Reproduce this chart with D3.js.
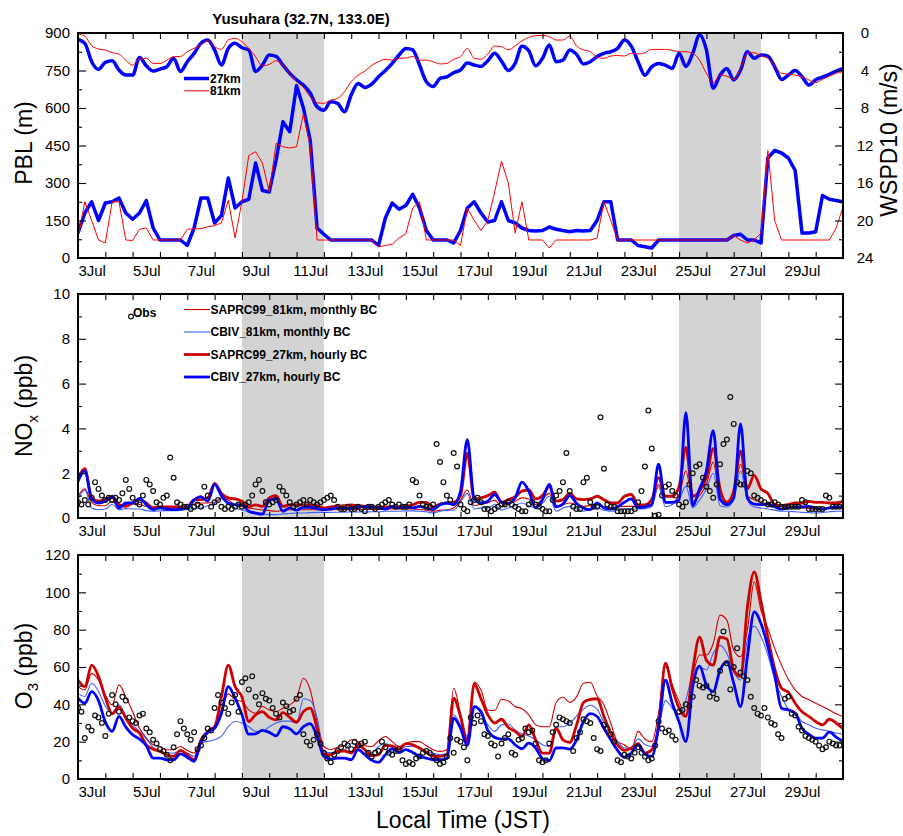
<!DOCTYPE html>
<html>
<head>
<meta charset="utf-8">
<script src="https://cdn.jsdelivr.net/npm/d3@7"></script>
<style>
  body { margin: 0; background: #fff; }
  svg text { font-family: "Liberation Sans", Arial, Helvetica, sans-serif; }
</style>
</head>
<body>
<svg id="chart" width="903" height="836"></svg>
<script>
// ---------------------------------------------------------------
// Time axis: days after 3 Jul 00:00 JST. Model output every 6 h,
// observations every 3 h.
// ---------------------------------------------------------------
const modelStepHours = 6;
const obsStepHours = 3;
const dayTicks = d3.range(0, 29);
const dateLabels = ["3Jul", "5Jul", "7Jul", "9Jul", "11Jul", "13Jul", "15Jul",
                    "17Jul", "19Jul", "21Jul", "23Jul", "25Jul", "27Jul", "29Jul"];
const shadedPeriods = [[6, 9], [22, 25]];   // 9-11 Jul and 25-27 Jul

// ---- Panel 1: 10-m wind speed (m/s, right axis) ----
const wspd27km = [
  0.68, 1.1, 3.06, 3.88,   3.13, 2.96, 3.95, 4.49,   4.49, 2.6, 3.5, 4.06,   3.85, 3.6, 2.7, 4.1,
  3.06, 2.17, 1.1, 0.75,   1.8, 3.42, 1.64, 1.1,     1.57, 1.8, 4.1, 3.42,   2.35, 2.5, 3.42, 4.3,
  5.0, 5.55, 6.4, 7.87,    8.23, 7.34, 7.5, 8.4,     6.6, 5.38, 5.8, 5.45,   4.67, 4.0, 3.24, 2.35,
  1.64, 1.8, 3.42, 5.2,    5.7, 4.84, 4.67, 4.24,    3.95, 3.2, 3.42, 3.56,  2.96, 2.17, 3.0, 4.0,
  3.24, 1.4, 1.9, 3.5,     2.7, 1.28, 3.06, 2.9,     1.8, 2.28, 3.3, 3.06,   2.5, 2.17, 2.0, 1.64,
  0.75, 1.4, 3.06, 4.5,    3.6, 3.24, 3.42, 3.78,    2.17, 3.56, 2.17, 0.2,  1.8, 5.9, 4.5, 3.78,
  5.0, 3.95, 2.0, 2.7,     2.35, 2.46, 3.6, 4.95,    4.49, 4.0, 4.67, 5.55,  5.0, 4.7, 4.4, 4.06,
  3.78
];
const wspd81km = [
  0.1, 0.32, 1.35, 1.7,    1.82, 2.1, 2.24, 2.9,     3.42, 2.78, 2.7, 3.24,  3.24, 2.9, 2.53, 2.5,
  2.0, 1.64, 1.28, 0.82,   1.46, 1.75, 0.75, 0.57,   0.93, 1.64, 2.53, 3.5,  3.35, 2.96, 3.42, 4.3,
  5.2, 5.8, 6.8, 7.44,     7.5, 7.16, 7.0, 6.27,     5.2, 4.5, 4.06, 3.45,   3.06, 2.8, 2.9, 2.7,
  2.67, 2.5, 2.9, 2.9,     3.06, 3.3, 3.24, 2.8,     2.53, 1.64, 2.7, 2.8,   2.24, 1.39, 1.46, 1.8,
  1.39, 0.82, 0.46, 0.28,  0.25, 0.39, 0.75, 0.75,   0.32, 1.39, 1.8, 2.0,   2.6, 2.7, 2.46, 2.4,
  2.46, 2.17, 2.24, 2.1,   1.75, 1.75, 1.75, 1.85,   2.0, 2.0, 2.17, 2.9,    4.3, 5.3, 4.5, 4.6,
  4.95, 3.78, 2.17, 2.1,   2.46, 2.7, 3.5, 4.3,      4.4, 4.49, 4.67, 5.0,   5.3, 4.95, 4.6, 4.3,
  4.13
];

// ---- Panel 1: boundary layer height (m, left axis) ----
const pbl27km = [
  100, 180, 225, 150,   220, 225, 240, 180,   155, 180, 230, 120,   72, 72, 72, 72,
  50, 120, 240, 240,    140, 170, 320, 200,   225, 235, 380, 270,   264, 391, 545, 505,
  690, 600, 470, 120,   95, 72, 72, 72,       72, 72, 72, 72,       50, 160, 220, 195,
  210, 255, 200, 110,   72, 72, 72, 60,       110, 200, 225, 180,   144, 150, 225, 150,
  140, 120, 110, 108,   110, 124, 115, 110,   105, 110, 108, 110,   150, 225, 225, 72,
  72, 72, 50, 45,       40, 72, 72, 72,       72, 72, 72, 72,       72, 72, 72, 72,
  90, 95, 72, 72,       60, 400, 430, 420,    400, 350, 100, 100,   105, 250, 235, 230,
  225
];
const pbl81km = [
  80, 225, 150, 72,     60, 225, 225, 72,     70, 115, 120, 72,     72, 72, 72, 72,
  115, 117, 117, 125,   130, 140, 231, 80,    225, 410, 425, 380,   265, 458, 445, 440,
  445, 578, 445, 72,    72, 72, 72, 72,       72, 72, 72, 72,       45, 50, 55, 80,
  97, 200, 225, 72,     72, 72, 72, 72,       50, 200, 150, 110,    150, 264, 387, 300,
  100, 225, 72, 72,     72, 40, 72, 72,       72, 72, 72, 72,       80, 225, 150, 72,
  72, 72, 72, 72,       72, 72, 72, 72,       72, 72, 72, 72,       72, 72, 72, 72,
  90, 72, 60, 72,       100, 430, 150, 72,    72, 72, 72, 72,       72, 72, 72, 120,
  204
];

// ---- Panel 2: NOx (ppb) ----
const noxSaprc81 = [
  0.97, 1.3, 0.7, 0.55,   0.55, 0.75, 0.49, 0.6,   0.67, 0.6, 0.52, 0.49,  0.47, 0.45, 0.47, 0.49,
  0.52, 0.6, 0.67, 0.67,  0.7, 0.9, 0.8, 0.59,     0.5, 0.45, 0.4, 0.37,   0.33, 0.3, 0.35, 0.37,
  0.37, 0.37, 0.37, 0.37, 0.37, 0.37, 0.37, 0.38,  0.38, 0.38, 0.38, 0.38, 0.38, 0.4, 0.4, 0.4,
  0.4, 0.4, 0.38, 0.35,   0.3, 0.35, 0.37, 0.45,   0.8, 1.25, 0.55, 0.62,  0.67, 0.8, 0.52, 0.65,
  0.75, 0.9, 0.85, 0.6,   0.85, 1.1, 0.52, 0.6,    0.67, 0.6, 0.52, 0.55,  0.59, 0.5, 0.45, 0.49,
  0.52, 0.52, 0.52, 0.55, 0.59, 1.5, 0.67, 0.7,    1.0, 2.1, 0.75, 1.0,    1.5, 2.5, 0.8, 0.67,
  1.0, 2.4, 1.0, 0.82,    0.7, 0.62, 0.55, 0.52,   0.47, 0.45, 0.45, 0.42, 0.4, 0.42, 0.45, 0.47,
  0.49
];
const noxCbiv81 = [
  0.82, 1.25, 0.45, 0.37, 0.4, 0.6, 0.37, 0.42,    0.4, 0.4, 0.33, 0.3,    0.32, 0.33, 0.33, 0.34,
  0.38, 0.42, 0.45, 0.55, 0.65, 0.85, 0.6, 0.45,   0.35, 0.28, 0.22, 0.17, 0.15, 0.15, 0.18, 0.2,
  0.22, 0.22, 0.24, 0.25, 0.25, 0.25, 0.26, 0.26,  0.27, 0.27, 0.27, 0.28, 0.28, 0.3, 0.3, 0.3,
  0.32, 0.32, 0.3, 0.28,  0.22, 0.3, 0.34, 0.35,   0.7, 1.1, 0.4, 0.45,    0.45, 0.6, 0.35, 0.45,
  0.55, 0.67, 0.55, 0.45, 0.65, 0.97, 0.3, 0.45,   0.52, 0.4, 0.3, 0.4,    0.45, 0.35, 0.3, 0.35,
  0.4, 0.4, 0.4, 0.42,    0.5, 1.4, 0.5, 0.6,      0.82, 1.41, 0.45, 0.8,  1.3, 2.0, 0.55, 0.49,
  0.8, 2.1, 0.8, 0.49,    0.45, 0.4, 0.35, 0.3,    0.3, 0.28, 0.25, 0.24,  0.22, 0.25, 0.28, 0.3,
  0.3
];
const noxSaprc27 = [
  1.78, 2.2, 0.9, 0.75,   0.82, 0.97, 0.6, 0.52,   0.67, 0.82, 0.67, 0.45, 0.49, 0.49, 0.49, 0.49,
  0.49, 0.82, 0.82, 0.9,  1.55, 1.1, 0.9, 0.85,    0.75, 0.5, 0.59, 0.52,  0.9, 1.0, 0.52, 0.59,
  0.59, 0.59, 0.59, 0.55, 0.45, 0.5, 0.52, 0.55,   0.59, 0.55, 0.52, 0.5,  0.49, 0.49, 0.49, 0.5,
  0.52, 0.59, 0.7, 0.7,   0.49, 0.62, 0.67, 0.7,   1.0, 2.9, 0.85, 0.9,    1.0, 1.15, 0.7, 0.82,
  0.95, 1.2, 1.25, 0.85,  1.0, 1.4, 0.75, 0.82,    1.1, 0.85, 0.82, 0.85,  0.97, 0.82, 0.67, 0.67,
  0.97, 1.05, 0.59, 0.59, 0.82, 1.8, 0.97, 0.97,   1.4, 3.15, 0.97, 1.2,   1.8, 3.1, 1.3, 0.7,
  1.2, 3.0, 1.3, 1.9,     1.3, 1.1, 0.6, 0.55,     0.6, 0.67, 0.67, 0.74,  0.7, 0.7, 0.67, 0.67,
  0.74
];
const noxCbiv27 = [
  1.63, 2.1, 0.85, 0.67,  0.75, 0.95, 0.45, 0.67,  0.67, 0.88, 0.6, 0.37,  0.45, 0.4, 0.37, 0.4,
  0.45, 0.8, 0.95, 0.75,  1.5, 1.0, 0.67, 0.59,    0.6, 0.3, 0.22, 0.17,   0.8, 0.85, 0.3, 0.45,
  0.35, 0.48, 0.48, 0.42, 0.37, 0.4, 0.45, 0.45,   0.42, 0.5, 0.49, 0.49,  0.45, 0.4, 0.52, 0.45,
  0.49, 0.45, 0.52, 0.45, 0.37, 0.59, 0.67, 0.6,   1.2, 3.5, 0.85, 0.67,   0.75, 1.05, 0.7, 0.65,
  0.9, 1.6, 1.2, 0.45,    0.82, 1.5, 0.5, 0.62,    1.0, 0.65, 0.45, 0.37,  0.67, 0.45, 0.4, 0.5,
  0.7, 0.85, 0.47, 0.5,   0.6, 2.4, 0.7, 0.7,      0.8, 4.7, 0.55, 1.3,    2.1, 3.9, 0.85, 0.6,
  0.9, 4.2, 0.9, 0.62,    0.6, 0.62, 0.5, 0.4,     0.45, 0.5, 0.5, 0.52,   0.45, 0.4, 0.45, 0.48,
  0.49
];
const noxObs = [
  0.7, 0.6, 0.8, 0.6, 0.9, 1.6, 1.3, 1.0,   0.8, 0.9, 0.8, 0.9, 0.8, 1.1, 1.7, 1.3,
  0.9, 0.7, 0.6, 1.0, 1.7, 1.5, 1.2, 0.7,   0.6, 0.9, 1.0, 2.7, 1.8, 0.7, 0.6, 0.5,
  0.5, 0.4, 0.5, 0.6, 0.5, 1.4, 1.0, 0.5,   0.7, 0.8, 0.5, 0.4, 0.5, 0.4, 0.5, 0.6,
  0.5, 0.6, 0.7, 1.0, 1.5, 1.7, 1.2, 0.7,   0.6, 0.7, 0.8, 1.4, 1.2, 1.0, 0.7, 0.5,
  0.6, 0.7, 0.8, 0.6, 0.8, 0.7, 0.6, 0.7,   0.8, 0.9, 1.0, 0.8, 0.5, 0.4, 0.4, 0.5,
  0.4, 0.4, 0.5, 0.4, 0.3, 0.5, 0.5, 0.4,   0.5, 0.6, 0.7, 0.8, 0.6, 0.5, 0.6, 0.5,
  0.5, 0.6, 1.7, 1.6, 1.0, 0.6, 0.5, 0.5,   0.6, 3.3, 2.5, 1.6, 1.0, 0.8, 2.9, 2.3,
  0.6, 0.4, 0.3, 0.7, 0.8, 0.9, 0.7, 0.4,   0.4, 0.3, 0.4, 0.5, 0.6, 0.6, 0.7, 0.6,
  0.5, 0.4, 0.3, 0.3, 0.6, 0.7, 0.6, 0.5,   0.4, 0.3, 0.3, 0.8, 1.0, 1.2, 1.6, 2.9,
  1.2, 0.5, 0.4, 0.4, 1.6, 1.8, 0.7, 0.5,   0.5, 4.5, 2.2, 0.6, 0.5, 0.5, 0.3, 0.3,
  0.3, 0.3, 0.3, 0.4, 0.7, 1.2, 2.3, 4.8,   3.1, 0.1, 0.15, 1.0, 1.4, 1.5, 1.2, 1.0,
  0.6, 0.5, 0.7, 1.5, 2.0, 2.3, 2.4, 1.8,   1.4, 1.2, 0.9, 1.5, 2.4, 3.3, 3.5, 5.4,
  4.2, 1.6, 1.5, 1.5, 2.1, 2.0, 1.0, 0.9,   0.8, 0.7, 0.6, 0.6, 0.7, 0.6, 0.5, 0.5,
  0.5, 0.5, 0.5, 0.5, 0.8, 0.7, 0.4, 0.4,   0.4, 0.4, 0.4, 1.0, 0.9, 0.5, 0.5, 0.5
];

// ---- Panel 3: O3 (ppb) ----
const o3Saprc81 = [
  49.5, 47.7, 56.6, 53,   45, 39.7, 50.4, 44,     36, 27.2, 22, 18.3,     17.4, 15.7, 15.7, 17.4,
  15.3, 13.9, 21, 25.5,   26.7, 37, 45.6, 42.4,   41.5, 37, 35.2, 38.8,   37, 36.1, 37.9, 39.7,
  43.3, 54, 47.7, 30.8,   17.4, 15.7, 17, 17.8,   21, 20, 17.8, 17.4,     20.5, 22.8, 20, 17.4,
  19.2, 20, 20, 17.8,     15.7, 14.8, 15.7, 48.6, 35, 21.9, 52, 47.7,     37, 36.7, 42.7, 41.8,
  38.8, 37.6, 34.4, 29,   28, 28, 41, 43.8,       41, 44, 51.3, 51.8,     44.5, 39.7, 29.9, 20,
  18.3, 15.7, 25.5, 21.4, 20, 35.2, 60.2, 50.4,   41.5, 34.4, 54.8, 66.4, 66.4, 72.6, 87.8, 85.1,
  69, 65.5, 79.8, 105.6,  90.4, 80.6, 70, 61,     53.4, 47.7, 44.2, 42.4, 40.6, 38.8, 37, 34.9,
  33.5
];
const o3Cbiv81 = [
  46, 44.2, 51.3, 47,     39, 35.5, 39.7, 34,     29, 25.5, 21.5, 17,     14.8, 13.9, 13.9, 15,
  13.9, 12.1, 19.5, 20.2, 21, 23, 28, 30.8,       30, 28, 25.5, 25.5,     28, 30, 31, 31,
  30, 43, 42, 33,         14.8, 14, 15, 15.5,     19, 17.4, 15.7, 14,     17.4, 19, 17.4, 15.5,
  17.4, 17.4, 16.6, 14.8, 13.9, 13, 13.6, 34.4,   29, 23, 38.8, 35.2,     29, 25.5, 29, 29.5,
  26.3, 24.2, 23.1, 21,   18.3, 17.4, 28, 28,     29.9, 33.8, 37.4, 39.5, 37.4, 30.3, 24.6, 20.1,
  16.6, 16.6, 21.5, 18.5, 17.4, 27.2, 42, 37.9,   34.4, 42.4, 56.6, 60.2, 58.4, 67.3, 71.6, 67.3,
  57.5, 53, 74.4, 81.9,   76.2, 66.4, 53.4, 44.2, 37.4, 35.2, 30.8, 29,   27.2, 26.3, 25.5, 24.6,
  24
];
const o3Saprc27 = [
  53, 49.5, 61, 55,       43.6, 35, 38.5, 32.6,   27.2, 24.6, 18.3, 16,   14.8, 13, 12.1, 15.3,
  13, 10.3, 21, 25.5,     28, 44, 61, 49.5,       44, 30.8, 34.4, 36.1,   33, 31.7, 35.6, 33,
  30.4, 36.1, 38, 27.2,   13.5, 13, 14.8, 15,     13.9, 18.3, 15.7, 12.5, 13, 18, 17.8, 16,
  18.9, 18.3, 16.6, 14.2, 12.1, 12.1, 13, 43.3,   33.5, 20, 51, 43,       34.4, 30, 32, 27.6,
  25.5, 22.8, 29, 21,     13.9, 13.9, 27.2, 21,   19.6, 29, 41, 42.7,     43, 33.5, 24.6, 18.3,
  15.3, 16.5, 18.9, 13.9, 15.7, 28, 62, 48.6,     37.9, 33.5, 58.4, 76,   63.7, 61, 76, 75,
  58.4, 55, 92, 111,      95, 76, 59, 48.6,       46.5, 40.6, 36, 33.5,   30.8, 29, 32, 30,
  27
];
const o3Cbiv27 = [
  43.3, 40.6, 46.8, 42,   30.6, 25.5, 33.5, 27.8, 23.7, 21.4, 17.8, 11.2, 11.2, 10.3, 10.3, 13.5,
  11.7, 9.4, 19.8, 25,    27.2, 35.2, 49.5, 43.3, 34.4, 24, 24.2, 26,     25, 23.1, 28, 26.9,
  24.2, 28, 29.7, 22.8,   12.1, 10.7, 11.2, 11.2, 10.3, 15.7, 13, 10,     8.9, 13, 16.2, 14.2,
  15.7, 14.2, 12.1, 11.2, 10.3, 10.3, 11, 32.6,   27.2, 18, 38.8, 36.1,   26, 22.3, 21.4, 21.5,
  18.3, 16.2, 19.2, 16.6, 10.9, 9.8, 16.6, 16.7,  16, 21, 30.8, 35,       33.5, 27.2, 21, 15.3,
  11.6, 13.9, 18.3, 13.4, 12.1, 28, 53, 40.6,     30.6, 20.1, 49.5, 60.5, 50.4, 46.8, 58.4, 62.7,
  51.3, 38.8, 65.5, 89.5, 83.3, 70.9, 55.7, 37.9, 37, 35.2, 27.2, 24,     21.9, 21.9, 25.1, 22.4,
  20.1
];
const o3Obs = [
  38, 36, 22, 28, 26, 34, 33, 30,   23, 35, 45, 40, 36, 44, 42, 33,
  31, 30, 34, 35, 27, 25, 21, 19,   16, 15, 13, 10, 17, 24, 31, 27,
  24, 21, 25, 16, 18, 22, 27, 26,   38, 45, 41, 38, 35, 41, 45, 36,
  52, 54, 48, 55, 44, 40, 46, 43,   42, 38, 35, 33, 41, 39, 36, 37,
  43, 45, 24, 20, 18, 21, 24, 19,   14, 11, 9, 13, 15, 17, 19, 18,
  16, 20, 18, 19, 20, 14, 12, 14,   15, 20, 17, 14, 13, 15, 16, 10,
  8, 9, 8, 11, 12, 14, 15, 14,      12, 10, 8, 9, 12, 22, 14, 21,
  20, 17, 10, 33, 30, 34, 31, 24,   23, 19, 18, 12, 19, 22, 24, 14,
  13, 21, 22, 27, 25, 26, 19, 10,   9, 10, 19, 25, 29, 33, 32, 31,
  30, 15, 22, 25, 32, 31, 30, 22,   16, 15, 29, 27, 24, 20, 10, 9,
  13, 12, 11, 14, 17, 14, 12, 10,   11, 18, 31, 27, 25, 26, 23, 21,
  36, 37, 40, 39, 44, 53, 50, 49,   50, 44, 46, 43, 58, 79, 62, 48,
  60, 70, 57, 55, 53, 44, 38, 35,   34, 38, 33, 30, 29, 24, 22, 43,
  44, 35, 34, 28, 26, 23, 22, 21,   20, 18, 16, 17, 20, 19, 18, 18
];

// ---------------------------------------------------------------
// Layout and styles
// ---------------------------------------------------------------
const FONT = '"Liberation Sans", Arial, Helvetica, sans-serif';
const X0 = 78, X1 = 843;
const panelBox = [
  { top: 33,  bottom: 258 },
  { top: 294, bottom: 518 },
  { top: 555, bottom: 779 }
];
const svg = d3.select("#chart");
const x = d3.scaleLinear().domain([0, 28]).range([X0, X1]);

const modelPoints = vals => vals.map((v, i) => ({ t: i * modelStepHours / 24, v }));
const obsPoints = vals => vals.map((v, i) => ({ t: i * obsStepHours / 24, v }));

function makePanel(idx, yLeft, leftMajor, leftMinor, yRight, rightMajor, rightMinor, rightLabels) {
  const { top, bottom } = panelBox[idx];
  const g = svg.append("g");

  // shaded periods
  g.selectAll("rect.shade").data(shadedPeriods).join("rect")
    .attr("class", "shade")
    .attr("x", d => x(d[0])).attr("width", d => x(d[1]) - x(d[0]))
    .attr("y", top).attr("height", bottom - top)
    .attr("fill", "#d3d3d3");

  // clip for data marks
  svg.append("clipPath").attr("id", "clip" + idx)
    .append("rect").attr("x", X0).attr("y", top).attr("width", X1 - X0).attr("height", bottom - top);
  const plot = g.append("g").attr("clip-path", `url(#clip${idx})`);

  const axes = g.append("g").attr("class", "axes");
  const styleAxis = sel => {
    sel.select(".domain").remove();
    sel.selectAll(".tick line").attr("stroke", "#000").attr("stroke-width", 1.1);
    sel.selectAll("text").attr("font-family", FONT).attr("font-size", 15).attr("fill", "#000");
  };

  // day ticks on bottom and top (inward)
  axes.append("g").attr("transform", `translate(0,${bottom})`)
    .call(d3.axisBottom(x).tickValues(dayTicks).tickSize(-6).tickFormat(""))
    .call(styleAxis);
  axes.append("g").attr("transform", `translate(0,${top})`)
    .call(d3.axisTop(x).tickValues(dayTicks).tickSize(-6).tickFormat(""))
    .call(styleAxis);
  // date labels centred on each labelled day
  axes.append("g").attr("transform", `translate(0,${bottom})`)
    .call(d3.axisBottom(x).tickValues(dateLabels.map((_, i) => 2 * i + 0.5))
      .tickFormat((d, i) => dateLabels[i]).tickSize(0).tickPadding(7))
    .call(styleAxis);

  // left axis
  axes.append("g").attr("transform", `translate(${X0},0)`)
    .call(d3.axisLeft(yLeft).tickValues(leftMajor).tickSize(-8).tickPadding(8))
    .call(styleAxis);
  axes.append("g").attr("transform", `translate(${X0},0)`)
    .call(d3.axisLeft(yLeft).tickValues(leftMinor).tickSize(-4).tickFormat(""))
    .call(styleAxis);

  // right axis
  const rAxis = axes.append("g").attr("transform", `translate(${X1},0)`)
    .call(d3.axisRight(yRight).tickValues(rightMajor).tickSize(-8)
      .tickFormat(rightLabels ? d3.format("d") : ""))
    .call(styleAxis);
  rAxis.selectAll("text").attr("x", 22).attr("text-anchor", "middle");
  axes.append("g").attr("transform", `translate(${X1},0)`)
    .call(d3.axisRight(yRight).tickValues(rightMinor).tickSize(-4).tickFormat(""))
    .call(styleAxis);

  // frame
  g.append("rect").attr("x", X0).attr("y", top)
    .attr("width", X1 - X0).attr("height", bottom - top)
    .attr("fill", "none").attr("stroke", "#000").attr("stroke-width", 2);

  return { g, plot, top, bottom };
}

function drawLine(plot, y, vals, color, width, curve) {
  plot.append("path")
    .datum(modelPoints(vals))
    .attr("fill", "none").attr("stroke", color).attr("stroke-width", width)
    .attr("stroke-linejoin", "round")
    .attr("d", d3.line().curve(curve || d3.curveLinear).x(d => x(d.t)).y(d => y(d.v)));
}

function drawObs(plot, y, vals) {
  plot.selectAll("circle.obs").data(obsPoints(vals).filter(d => d.v != null)).join("circle")
    .attr("class", "obs")
    .attr("cx", d => x(d.t)).attr("cy", d => y(d.v)).attr("r", 2.4)
    .attr("fill", "none").attr("stroke", "#111").attr("stroke-width", 1.2);
}

const smooth = d3.curveMonotoneX;

// ---------------------------------------------------------------
// Panel 1: PBL and WSPD10
// ---------------------------------------------------------------
const yPbl = d3.scaleLinear().domain([0, 900]).range([panelBox[0].bottom, panelBox[0].top]);
const yWs = d3.scaleLinear().domain([0, 24]).range([panelBox[0].top, panelBox[0].bottom]);
const p1 = makePanel(0, yPbl, d3.range(0, 901, 150), d3.range(75, 900, 150),
                     yWs, d3.range(0, 25, 4), d3.range(2, 24, 4), true);
drawLine(p1.plot, yWs, wspd27km, "#0000ff", 3.5, smooth);
drawLine(p1.plot, yPbl, pbl27km, "#0000ff", 3.5);
drawLine(p1.plot, yWs, wspd81km, "#ff0000", 1, smooth);
drawLine(p1.plot, yPbl, pbl81km, "#ff0000", 1);

const legend1 = [
  { label: "27km", color: "#0000ff", width: 3.5, y: 78.5 },
  { label: "81km", color: "#ff0000", width: 1, y: 90.8 }
];
legend1.forEach(d => {
  p1.g.append("line").attr("x1", 184).attr("x2", 209).attr("y1", d.y).attr("y2", d.y)
    .attr("stroke", d.color).attr("stroke-width", d.width);
  p1.g.append("text").attr("x", 210).attr("y", d.y).attr("dy", "0.36em")
    .attr("font-size", 12).attr("font-weight", "bold").text(d.label);
});

// ---------------------------------------------------------------
// Panel 2: NOx
// ---------------------------------------------------------------
const yNox = d3.scaleLinear().domain([0, 10]).range([panelBox[1].bottom, panelBox[1].top]);
const p2 = makePanel(1, yNox, d3.range(0, 11, 2), d3.range(1, 10, 2),
                     yNox, d3.range(0, 11, 2), d3.range(1, 10, 2), false);

const modelStyles = [
  { label: "SAPRC99_81km, monthly BC", color: "#cc0000", width: 1.1 },
  { label: "CBIV_81km, monthly BC",    color: "#4060ff", width: 1.1 },
  { label: "SAPRC99_27km, hourly BC",  color: "#cc0000", width: 2.8 },
  { label: "CBIV_27km, hourly BC",     color: "#0000ff", width: 2.8 }
];
[noxSaprc81, noxCbiv81, noxSaprc27, noxCbiv27].forEach((vals, i) =>
  drawLine(p2.plot, yNox, vals, modelStyles[i].color, modelStyles[i].width, smooth));
drawObs(p2.plot, yNox, noxObs);

// legend
p2.g.append("circle").attr("cx", 131).attr("cy", 316.5).attr("r", 2.4)
  .attr("fill", "none").attr("stroke", "#111").attr("stroke-width", 1.2);
p2.g.append("text").attr("x", 133).attr("y", 313).attr("dy", "0.36em")
  .attr("font-size", 12).attr("font-weight", "bold").text("Obs");
const legendRows = [309.5, 332, 354.5, 377];
modelStyles.forEach((d, i) => {
  p2.g.append("line").attr("x1", 184).attr("x2", 210)
    .attr("y1", legendRows[i]).attr("y2", legendRows[i])
    .attr("stroke", d.color).attr("stroke-width", d.width);
  p2.g.append("text").attr("x", 210.5).attr("y", legendRows[i]).attr("dy", "0.36em")
    .attr("font-size", 12).attr("font-weight", "bold").text(d.label);
});

// ---------------------------------------------------------------
// Panel 3: O3
// ---------------------------------------------------------------
const yO3 = d3.scaleLinear().domain([0, 120]).range([panelBox[2].bottom, panelBox[2].top]);
const p3 = makePanel(2, yO3, d3.range(0, 121, 20), d3.range(10, 120, 20),
                     yO3, d3.range(0, 121, 20), d3.range(10, 120, 20), false);
[o3Saprc81, o3Cbiv81, o3Saprc27, o3Cbiv27].forEach((vals, i) =>
  drawLine(p3.plot, yO3, vals, modelStyles[i].color, modelStyles[i].width, smooth));
drawObs(p3.plot, yO3, o3Obs);

// ---------------------------------------------------------------
// Titles
// ---------------------------------------------------------------
svg.append("text").attr("x", 301).attr("y", 23.5).attr("text-anchor", "middle")
  .attr("font-size", 15).attr("font-weight", "bold").text("Yusuhara (32.7N, 133.0E)");

function yTitle(xPos, yPos, parts) {
  const t = svg.append("text").attr("transform", `translate(${xPos},${yPos}) rotate(-90)`)
    .attr("text-anchor", "middle").attr("font-size", 23);
  parts.forEach(p => {
    const s = t.append("tspan").text(p.text);
    if (p.sub) s.attr("font-size", 15).attr("dy", 6);
    if (p.after) s.attr("dy", -6);
  });
}
yTitle(32, 143, [{ text: "PBL (m)" }]);
yTitle(32, 406, [{ text: "NO" }, { text: "x", sub: true }, { text: " (ppb)", after: true }]);
yTitle(32, 666, [{ text: "O" }, { text: "3", sub: true }, { text: " (ppb)", after: true }]);
yTitle(897, 140, [{ text: "WSPD10 (m/s)" }]);

svg.append("text").attr("x", 463).attr("y", 828).attr("text-anchor", "middle")
  .attr("font-size", 23).text("Local Time (JST)");
</script>
</body>
</html>
